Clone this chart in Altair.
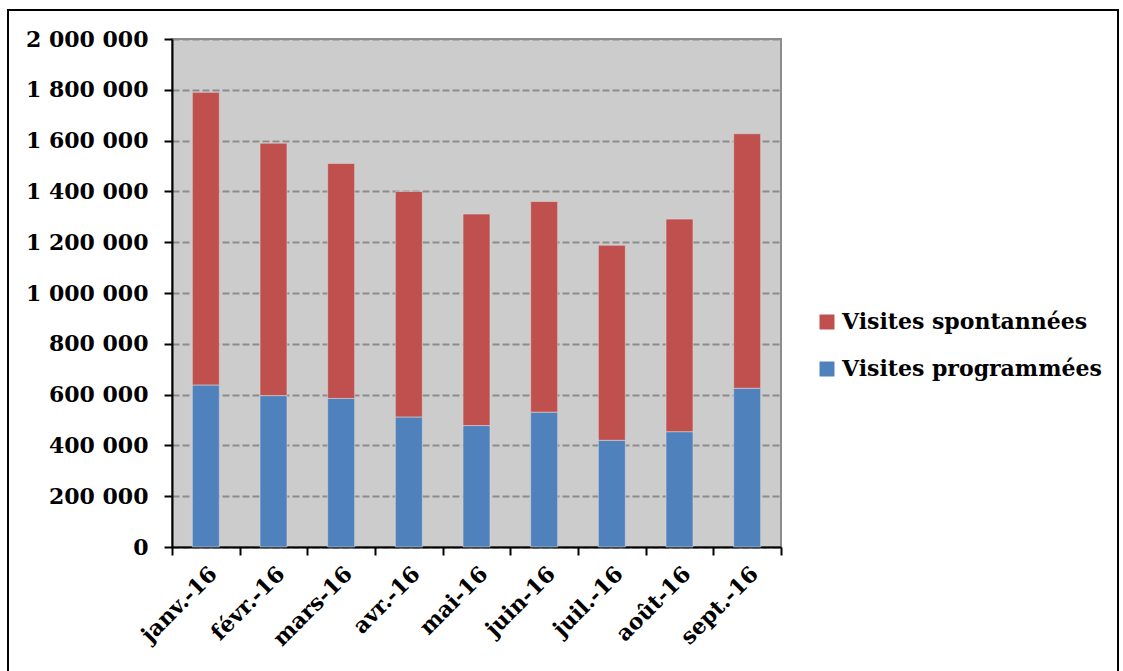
import altair as alt
import pandas as pd

months = ["janv.-16", "févr.-16", "mars-16", "avr.-16", "mai-16", "juin-16", "juil.-16", "août-16", "sept.-16"]
programmees = [638000, 596000, 585000, 512000, 478000, 531000, 420000, 454000, 625000]
spontanees = [1152000, 994000, 925000, 888000, 833000, 829000, 768000, 837000, 1002000]
series_names = ["Visites spontannées", "Visites programmées"]
series_colors = ["#C0504D", "#4F81BD"]

rows = []
for m, p, s in zip(months, programmees, spontanees):
    rows.append({"mois": m, "serie": "Visites programmées", "valeur": p, "ordre": 0})
    rows.append({"mois": m, "serie": "Visites spontannées", "valeur": s, "ordre": 1})
df = pd.DataFrame(rows)

FONT = "DejaVu Serif"

bars = alt.Chart(df).mark_bar(size=27, stroke="#d9d9d9", strokeWidth=0.6).encode(
    x=alt.X("mois:N", sort=months, title=None,
            scale=alt.Scale(paddingInner=0, paddingOuter=0),
            axis=alt.Axis(labelAngle=-45, tickBand="extent", labelFontSize=22,
                          labelFont=FONT, labelFontWeight="bold", labelColor="black",
                          domainColor="black", domainWidth=2, tickColor="black",
                          tickWidth=2, tickSize=8, labelPadding=8, grid=False)),
    y=alt.Y("valeur:Q", stack="zero", title=None,
            scale=alt.Scale(domain=[0, 2000000], nice=False),
            axis=alt.Axis(values=list(range(0, 2000001, 200000)),
                          labelExpr="replace(format(datum.value, ','), regexp(',', 'g'), ' ')",
                          labelFontSize=22, labelFont=FONT, labelFontWeight="bold",
                          labelColor="black", domainColor="black", domainWidth=2,
                          tickColor="black", tickWidth=2, tickSize=8, labelPadding=16,
                          gridColor="#8c8c8c", gridWidth=2, gridDash=[7, 3])),
    color=alt.Color("serie:N", scale=alt.Scale(domain=series_names, range=series_colors),
                    legend=alt.Legend(title=None, orient="none", legendX=644, legendY=272,
                                      symbolType="square", symbolSize=225,
                                      symbolStrokeWidth=0, labelFontSize=22, labelFont=FONT,
                                      labelFontWeight="bold", labelColor="black",
                                      rowPadding=25, labelOffset=4, padding=0,
                                      labelLimit=400)),
    order=alt.Order("ordre:Q", sort="ascending"),
)

border = alt.Chart(alt.Data(values=[{"a": 1}])).mark_rect(
    fill=None, stroke="black", strokeWidth=2
).encode(
    x=alt.value(-164), x2=alt.value(946), y=alt.value(-29), y2=alt.value(720)
)

chart = alt.layer(border, bars).properties(
    width=609, height=508,
    autosize=alt.AutoSizeParams(type="none"),
    padding={"left": 172, "top": 39, "right": 342, "bottom": 124},
    background="white",
).configure_view(
    fill="#cccccc", stroke="#8c8c8c", strokeWidth=2
)

chart.save("out.html", embed_options={"renderer": "svg", "actions": False})
